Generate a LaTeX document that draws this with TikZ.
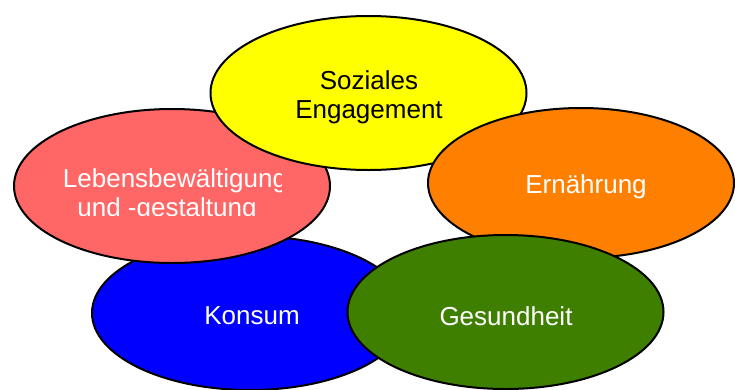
\documentclass[tikz,border=0pt]{standalone}
\usepackage{fontspec}
\setmainfont{Liberation Sans}
\usetikzlibrary{shapes.geometric}
\definecolor{cYellow}{RGB}{255,255,0}
\definecolor{cRed}{RGB}{255,102,102}
\definecolor{cOrange}{RGB}{255,128,0}
\definecolor{cBlue}{RGB}{0,0,255}
\definecolor{cGreen}{RGB}{63,127,0}
\begin{document}
\begin{tikzpicture}[x=1pt,y=-1pt,
  blob/.style={ellipse, draw=black, line width=2pt, inner sep=0pt,
    minimum width=316pt, minimum height=154pt},
  lbl/.style={font=\fontsize{26}{29}\selectfont, align=center}]
\useasboundingbox (0,0) rectangle (735,389);
\node[blob, fill=cBlue] (konsum) at (250,313) {};
\node[lbl, text=white] (konsumtext) at (252,316) {Konsum};
\node[blob, fill=cRed] (leben) at (172,186) {};
\begin{scope}
  \clip (30,140) rectangle (281,215);
  \node[lbl, text=white] (lebentext) at (172,195) {\hspace*{6pt}Lebensbewältigung\\und -gestaltung\hspace*{10pt}};
\end{scope}
\node[blob, fill=cYellow] (sozial) at (368.5,93) {};
\node[lbl, text=black] (sozialtext) at (369,97) {Soziales\\Engagement};
\node[blob, fill=cOrange, minimum width=306pt, minimum height=150pt] (ern) at (581,183) {};
\node[lbl, text=white] (erntext) at (586,187) {Ernährung};
\node[blob, fill=cGreen] (gesund) at (505.5,312) {};
\node[lbl, text=white] (gesundtext) at (506,316) {Gesundheit};
\end{tikzpicture}
\end{document}
